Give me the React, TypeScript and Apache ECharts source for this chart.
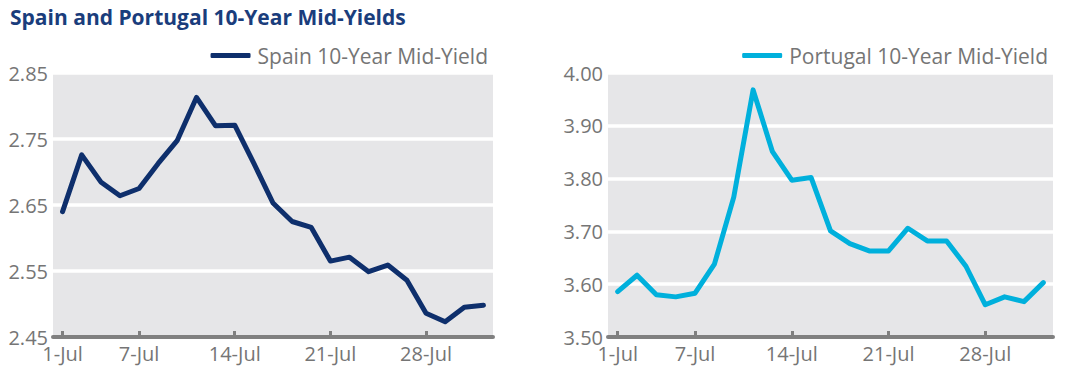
import React, { useEffect, useRef } from "react";
import * as echarts from "echarts";

const dates = ["1-Jul","2-Jul","3-Jul","4-Jul","7-Jul","8-Jul","9-Jul","10-Jul","11-Jul","14-Jul","15-Jul","16-Jul","17-Jul","18-Jul","21-Jul","22-Jul","23-Jul","24-Jul","25-Jul","28-Jul","29-Jul","30-Jul","31-Jul"];
const labelledDates = ["1-Jul","7-Jul","14-Jul","21-Jul","28-Jul"];
const spain = [2.640,2.726,2.685,2.664,2.675,2.713,2.748,2.813,2.770,2.771,2.713,2.653,2.625,2.616,2.565,2.571,2.549,2.559,2.536,2.486,2.473,2.495,2.498];
const portugal = [3.586,3.617,3.580,3.576,3.583,3.638,3.765,3.968,3.851,3.797,3.802,3.701,3.677,3.663,3.663,3.706,3.682,3.682,3.634,3.561,3.576,3.567,3.603];
const spainName = "Spain 10-Year Mid-Yield";
const portugalName = "Portugal 10-Year Mid-Yield";
const titleText = "Spain and Portugal 10-Year Mid-Yields";

const FONT = "Open Sans";
const GRAY = "#757575";
const SPAIN_COLOR = "#0e2f6c";
const PORT_COLOR = "#00b0dc";

export default function App() {
  const ref = useRef<HTMLDivElement>(null);
  useEffect(() => {
    if (!ref.current) return;
    const chart = echarts.init(ref.current, undefined, { renderer: "svg" });
    const showIdx = (i: number) => labelledDates.includes(dates[i]);
    const xAxisBase = (gridIndex: number) => ({
      type: "category",
      gridIndex,
      data: dates,
      boundaryGap: true,
      axisLine: { show: true, onZero: false, lineStyle: { color: "#808080", width: 4 } },
      axisTick: {
        show: true,
        inside: true,
        alignWithLabel: true,
        length: 6,
        interval: (i: number) => showIdx(i),
        lineStyle: { color: "#808080", width: 3 },
      },
      axisLabel: {
        interval: (i: number) => showIdx(i),
        color: GRAY,
        fontFamily: FONT,
        fontSize: 20,
        margin: 6,
      },
      splitLine: { show: false },
    });
    chart.setOption({
      animation: false,
      title: {
        text: titleText,
        left: 5,
        top: 1,
        textStyle: { fontFamily: FONT, fontSize: 21, fontWeight: "bold", color: "#1a3d7c" },
      },
      legend: [
        {
          data: [spainName],
          right: 582,
          top: 40,
          icon: "roundRect",
          itemWidth: 40,
          itemHeight: 5,
          textStyle: { fontFamily: FONT, fontSize: 21, color: GRAY, padding: [0, 0, 0, 2] },
        },
        {
          data: [portugalName],
          right: 22,
          top: 40,
          icon: "roundRect",
          itemWidth: 40,
          itemHeight: 5,
          textStyle: { fontFamily: FONT, fontSize: 21, color: GRAY, padding: [0, 0, 0, 2] },
        },
      ],
      grid: [
        { left: 53, top: 73, width: 440, height: 264, show: true, backgroundColor: "#e6e6e8", borderWidth: 0 },
        { left: 608, top: 73, width: 445, height: 264, show: true, backgroundColor: "#e6e6e8", borderWidth: 0 },
      ],
      xAxis: [xAxisBase(0), xAxisBase(1)],
      yAxis: [
        {
          type: "value",
          gridIndex: 0,
          min: 2.45,
          max: 2.85,
          interval: 0.05,
          axisLine: { show: false },
          axisTick: { show: false },
          axisLabel: {
            color: GRAY,
            fontFamily: FONT,
            fontSize: 20,
            margin: 5,
            formatter: (v: number) => (Math.round(v * 100) % 10 === 5 ? v.toFixed(2) : ""),
          },
          splitLine: { show: true, lineStyle: { color: ["#ffffff", "rgba(0,0,0,0)"], width: 3.5 } },
        },
        {
          type: "value",
          gridIndex: 1,
          min: 3.5,
          max: 4.0,
          interval: 0.1,
          axisLine: { show: false },
          axisTick: { show: false },
          axisLabel: {
            color: GRAY,
            fontFamily: FONT,
            fontSize: 20,
            margin: 5,
            formatter: (v: number) => v.toFixed(2),
          },
          splitLine: { show: true, lineStyle: { color: "#ffffff", width: 3.5 } },
        },
      ],
      series: [
        {
          name: spainName,
          type: "line",
          xAxisIndex: 0,
          yAxisIndex: 0,
          data: spain,
          symbol: "none",
          color: SPAIN_COLOR,
          lineStyle: { width: 5, color: SPAIN_COLOR, join: "round", cap: "round" },
        },
        {
          name: portugalName,
          type: "line",
          xAxisIndex: 1,
          yAxisIndex: 1,
          data: portugal,
          symbol: "none",
          color: PORT_COLOR,
          lineStyle: { width: 5, color: PORT_COLOR, join: "round", cap: "round" },
        },
      ],
    });
    return () => chart.dispose();
  }, []);
  return (
    <div
      ref={ref}
      style={{ position: "absolute", left: 0, top: 0, width: 1075, height: 374 }}
    />
  );
}
